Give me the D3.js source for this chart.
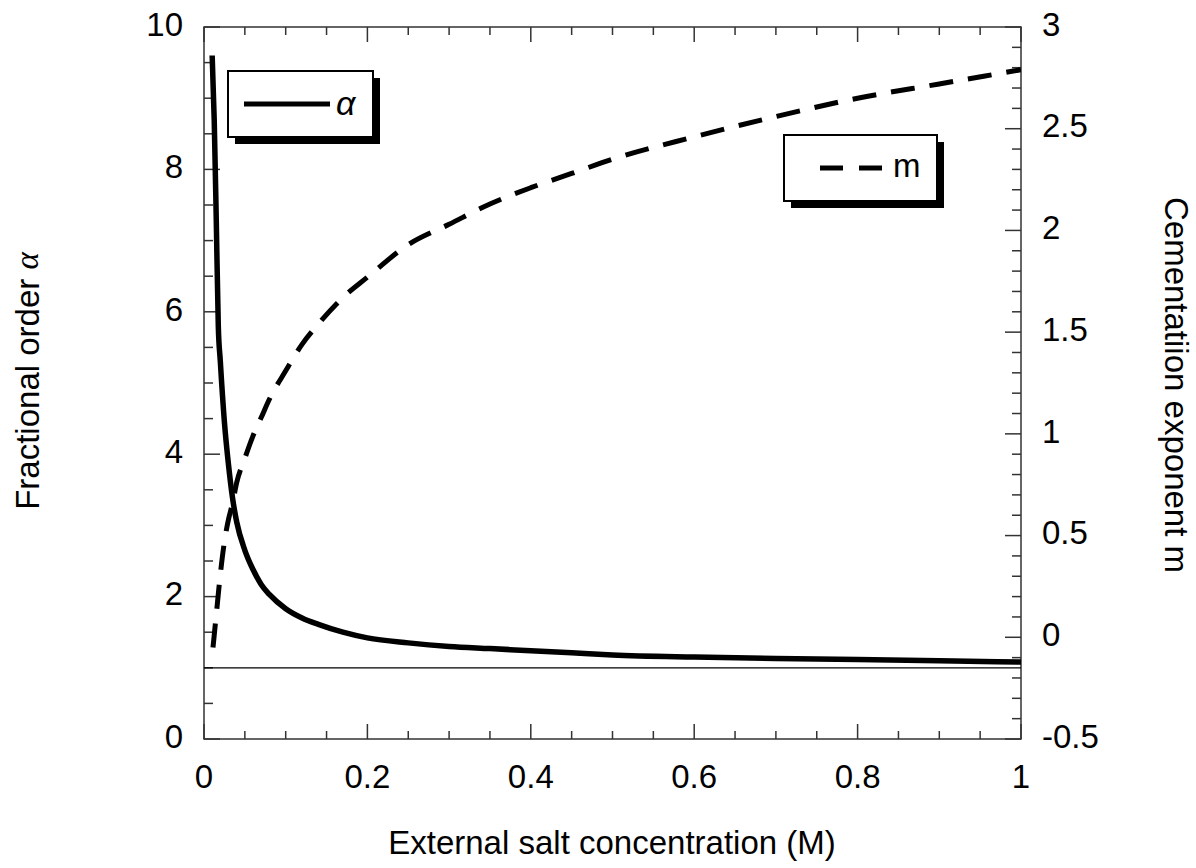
<!DOCTYPE html>
<html>
<head>
<meta charset="utf-8">
<script src="https://cdn.jsdelivr.net/npm/d3@7"></script>
<style>
  html, body { margin: 0; padding: 0; background: #fff; }
  svg { display: block; }
  text { font-family: "Liberation Sans", Arial, sans-serif; fill: #000; }
</style>
</head>
<body>
<svg id="chart" width="1196" height="868"></svg>
<script>
// ---- data ----
const alphaConc = [0.01, 0.0125, 0.015, 0.0175, 0.02, 0.025, 0.03, 0.035, 0.04, 0.05, 0.06, 0.07, 0.08, 0.1, 0.12, 0.14, 0.17, 0.2, 0.25, 0.3, 0.35, 0.4, 0.45, 0.5, 0.6, 0.7, 0.8, 0.9, 1.0];
const alphaVals = [9.6, 8.7, 7.3, 5.8, 5.3, 4.45, 3.85, 3.38, 3.05, 2.65, 2.38, 2.17, 2.03, 1.83, 1.70, 1.61, 1.50, 1.42, 1.35, 1.30, 1.27, 1.24, 1.21, 1.18, 1.15, 1.13, 1.115, 1.10, 1.08];

const mConc = [0.011, 0.015, 0.02, 0.025, 0.03, 0.035, 0.04, 0.05, 0.06, 0.07, 0.08, 0.1, 0.12, 0.14, 0.17, 0.2, 0.25, 0.3, 0.35, 0.4, 0.45, 0.5, 0.6, 0.7, 0.8, 0.9, 1.0];
const mVals = [-0.05, 0.11, 0.31, 0.47, 0.58, 0.66, 0.76, 0.88, 0.99, 1.08, 1.17, 1.31, 1.44, 1.54, 1.67, 1.77, 1.93, 2.03, 2.13, 2.21, 2.28, 2.35, 2.46, 2.56, 2.65, 2.72, 2.79];

const referenceAlpha = 1;

const xTicks = [0, 0.2, 0.4, 0.6, 0.8, 1];
const xTickLabels = ["0", "0.2", "0.4", "0.6", "0.8", "1"];
const yLeftTicks = [0, 2, 4, 6, 8, 10];
const yLeftTickLabels = ["0", "2", "4", "6", "8", "10"];
const yRightTicks = [-0.5, 0, 0.5, 1, 1.5, 2, 2.5, 3];
const yRightTickLabels = ["-0.5", "0", "0.5", "1", "1.5", "2", "2.5", "3"];

const xTitle = "External salt concentration (M)";
const yLeftTitle = "Fractional order ";
const yRightTitle = "Cementatiion exponent m";
const legendAlpha = "α";
const legendM = "m";

// ---- layout ----
const svg = d3.select("#chart");
const L = 204, R = 1021, T = 27, B = 739;
const FS = 33;

const x = d3.scaleLinear().domain([0, 1]).range([L, R]);
const yL = d3.scaleLinear().domain([0, 10]).range([B, T]);
const yR = d3.scaleLinear().domain([-0.5, 3]).range([B, T]);

const axisColor = "#333";

const xMinor = d3.range(0, 1.0001, 0.05);
const yLMinor = d3.range(0, 10.0001, 0.5);
const yRMinor = d3.range(-0.5, 3.0001, 0.1);

const gAx = svg.append("g").attr("stroke", axisColor).attr("stroke-width", 1.5).attr("fill", "none");

gAx.append("rect").attr("x", L).attr("y", T).attr("width", R - L).attr("height", B - T);

const isMajor = (v, arr) => arr.some(t => Math.abs(t - v) < 1e-6);

xMinor.forEach(v => {
  const len = isMajor(v, xTicks) ? 15 : 8;
  gAx.append("line").attr("x1", x(v)).attr("x2", x(v)).attr("y1", B).attr("y2", B - len);
  gAx.append("line").attr("x1", x(v)).attr("x2", x(v)).attr("y1", T).attr("y2", T + len);
});
yLMinor.forEach(v => {
  const len = isMajor(v, yLeftTicks) ? 16 : 9;
  gAx.append("line").attr("x1", L).attr("x2", L + len).attr("y1", yL(v)).attr("y2", yL(v));
});
yRMinor.forEach(v => {
  const len = isMajor(v, yRightTicks) ? 16 : 9;
  gAx.append("line").attr("x1", R).attr("x2", R - len).attr("y1", yR(v)).attr("y2", yR(v));
});

const gLab = svg.append("g").attr("font-size", FS);
xTicks.forEach((v, i) => {
  gLab.append("text").attr("x", x(v)).attr("y", B + 40).attr("text-anchor", "middle")
    .attr("dominant-baseline", "middle").text(xTickLabels[i]);
});
yLeftTicks.forEach((v, i) => {
  gLab.append("text").attr("x", L - 21).attr("y", yL(v)).attr("text-anchor", "end")
    .attr("dominant-baseline", "middle").text(yLeftTickLabels[i]);
});
yRightTicks.forEach((v, i) => {
  gLab.append("text").attr("x", R + 21).attr("y", yR(v)).attr("text-anchor", "start")
    .attr("dominant-baseline", "middle").text(yRightTickLabels[i]);
});

svg.append("text").attr("x", 612).attr("y", 845).attr("text-anchor", "middle")
  .attr("dominant-baseline", "middle").attr("font-size", FS).text(xTitle);

const tl = svg.append("text").attr("transform", `translate(30,381) rotate(-90)`)
  .attr("text-anchor", "middle").attr("dominant-baseline", "middle").attr("font-size", FS);
tl.append("tspan").text(yLeftTitle);
tl.append("tspan").attr("font-family", "'Liberation Serif', 'DejaVu Serif', serif").attr("font-style", "italic").text("α");

svg.append("text").attr("transform", `translate(1174,385) rotate(90)`)
  .attr("text-anchor", "middle").attr("dominant-baseline", "middle").attr("font-size", FS).text(yRightTitle);

svg.append("clipPath").attr("id", "plotclip").append("rect")
  .attr("x", L).attr("y", T).attr("width", R - L).attr("height", B - T);

const gPlot = svg.append("g").attr("clip-path", "url(#plotclip)");

gPlot.append("line").attr("x1", L).attr("x2", R).attr("y1", yL(referenceAlpha)).attr("y2", yL(referenceAlpha))
  .attr("stroke", "#000").attr("stroke-width", 1.3);

const alphaData = alphaConc.map((c, i) => [c, alphaVals[i]]);
const mData = mConc.map((c, i) => [c, mVals[i]]);

const lineA = d3.line().x(d => x(d[0])).y(d => yL(d[1])).curve(d3.curveMonotoneX);
const lineM = d3.line().x(d => x(d[0])).y(d => yR(d[1])).curve(d3.curveMonotoneX);

gPlot.append("path").datum(alphaData).attr("d", lineA).attr("fill", "none")
  .attr("stroke", "#000").attr("stroke-width", 5.5).attr("stroke-linejoin", "round");

gPlot.append("path").datum(mData).attr("d", lineM).attr("fill", "none")
  .attr("stroke", "#000").attr("stroke-width", 5).attr("stroke-dasharray", "24,15");

function legendBox(bx, by, bw, bh, drawSample) {
  const g = svg.append("g");
  g.append("rect").attr("x", bx + 7).attr("y", by + 7).attr("width", bw).attr("height", bh).attr("fill", "#000");
  g.append("rect").attr("x", bx).attr("y", by).attr("width", bw).attr("height", bh)
    .attr("fill", "#fff").attr("stroke", "#000").attr("stroke-width", 2);
  drawSample(g, by + bh / 2);
  return g;
}

const gA = legendBox(228, 71, 145, 66, (g, cy) => {
  g.append("line").attr("x1", 244).attr("x2", 330).attr("y1", cy).attr("y2", cy)
    .attr("stroke", "#000").attr("stroke-width", 5);
});
gA.append("text").attr("x", 336).attr("y", 106).attr("dominant-baseline", "middle")
  .attr("font-size", 34).attr("font-family", "'Liberation Serif', 'DejaVu Serif', serif").attr("font-style", "italic")
  .text(legendAlpha);

const gM = legendBox(784, 135, 153, 66, (g, cy) => {
  g.append("line").attr("x1", 820).attr("x2", 883).attr("y1", cy).attr("y2", cy)
    .attr("stroke", "#000").attr("stroke-width", 5).attr("stroke-dasharray", "23,16");
});
gM.append("text").attr("x", 893).attr("y", 168).attr("dominant-baseline", "middle")
  .attr("font-size", FS).text(legendM);
</script>
</body>
</html>
